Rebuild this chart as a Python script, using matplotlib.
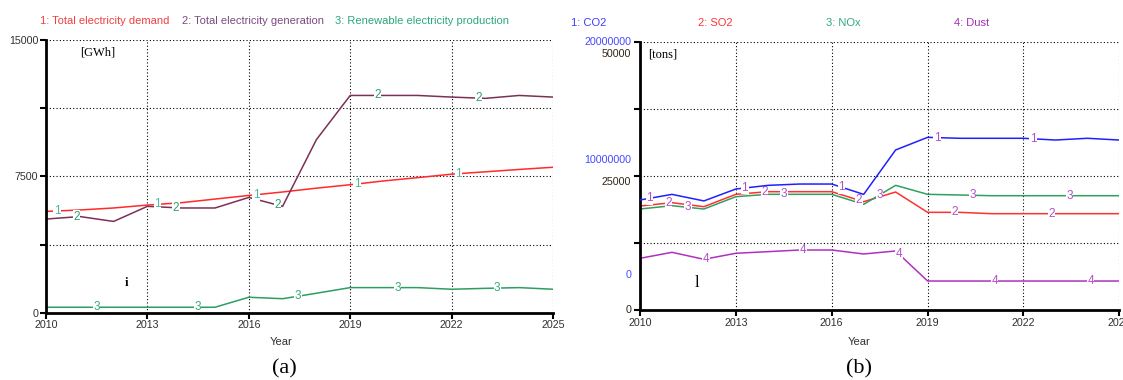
import matplotlib
matplotlib.use("Agg")
import matplotlib.pyplot as plt
import numpy as np

plt.rcParams['font.family'] = ['Liberation Sans', 'DejaVu Sans']

years = list(range(2010, 2026))

# (a) electricity, GWh
demand = [5570, 5650, 5760, 5920, 6050, 6250, 6450, 6640, 6850, 7040, 7250, 7430, 7620, 7750, 7880, 8000]
generation = [5150, 5290, 5020, 5850, 5760, 5760, 6340, 5850, 9520, 11950, 11950, 11950, 11860, 11790, 11950, 11860]
renewable = [300, 300, 300, 300, 300, 300, 850, 770, 1070, 1380, 1380, 1380, 1290, 1340, 1380, 1290]

# (b) emissions; CO2 on its own 0-20,000,000 scale, rest in tons (0-50,000)
co2 = [8.2e6, 8.62e6, 8.13e6, 9.02e6, 9.29e6, 9.39e6, 9.39e6, 8.62e6, 11.93e6, 12.87e6, 12.8e6, 12.8e6, 12.8e6, 12.67e6, 12.8e6, 12.67e6]
so2 = [19380, 20000, 19250, 21560, 22050, 22050, 22050, 20180, 21990, 18200, 18200, 17950, 17950, 17950, 17950, 17950]
nox = [18820, 19440, 18820, 21120, 21560, 21560, 21560, 19690, 23230, 21560, 21430, 21300, 21300, 21300, 21300, 21300]
dust = [9630, 10750, 9450, 10570, 10870, 11180, 11180, 10440, 11000, 5400, 5400, 5400, 5400, 5400, 5400, 5400]

# where the series numbers sit along each line
lab_a = {'1': [2010.33, 2013.3, 2016.22, 2019.2, 2022.2],
         '2': [2010.9, 2013.85, 2016.85, 2019.8, 2022.8],
         '3': [2011.5, 2014.48, 2017.45, 2020.4, 2023.35]}
lab_b = {'1': [2010.3, 2013.28, 2016.3, 2019.3, 2022.3],
         '2': [2010.89, 2013.9, 2016.85, 2019.85, 2022.88],
         '3': [2011.5, 2014.5, 2017.5, 2020.4, 2023.45],
         '4': [2012.07, 2015.1, 2018.1, 2021.1, 2024.1]}

W, H = 1123, 380
fig = plt.figure(figsize=(W / 100, H / 100), dpi=100)
ax1 = fig.add_axes([46 / W, 1 - 312.7 / H, 507 / W, 272.7 / H])
ax2 = fig.add_axes([640 / W, 1 - 310 / H, 479.3 / W, 268.3 / H])


def style(ax, ymax):
    ax.set_xlim(2010, 2025)
    ax.set_ylim(0, ymax)
    ax.set_xticks(range(2010, 2026, 3))
    ax.set_yticks(np.linspace(0, ymax, 5))
    ax.grid(True, linestyle=(0, (1, 2)), color='black', linewidth=0.8)
    for s in ['top', 'right']:
        ax.spines[s].set_visible(False)
    for s in ['left', 'bottom']:
        ax.spines[s].set_linewidth(2.0)
    ax.tick_params(axis='both', direction='out', length=4, width=1.5,
                   labelsize=7.7, labelcolor='#303030', pad=1.5)


def numbers(ax, x, y, labels, text, color):
    # below the spines (2.5) but above the lines (2)
    for xx in labels:
        ax.text(xx, np.interp(xx, x, y), text, fontsize=8.5, color=color,
                ha='center', va='center', zorder=2.4,
                bbox=dict(facecolor='white', edgecolor='none', pad=0.3))


# ---- (a)
style(ax1, 15000)
ax1.set_yticklabels(['0', '', '7500', '', '15000'])
ax1.plot(years, demand, color='#ff2a2a', lw=1.1)
ax1.plot(years, generation, color='#7d3055', lw=1.1)
ax1.plot(years, renewable, color='#2e9e60', lw=1.1)
numbers(ax1, years, demand, lab_a['1'], '1', '#45bca0')
numbers(ax1, years, generation, lab_a['2'], '2', '#2f9f70')
numbers(ax1, years, renewable, lab_a['3'], '3', '#35a880')
ax1.text(2011.0, 14300, '[GWh]', family='Liberation Serif', fontsize=9, va='center')
ax1.text(2012.39, 1650, 'i', family='Liberation Serif', fontsize=9,
         fontweight='bold', ha='center', va='center')

fig.text(40 / W, 1 - 20.7 / H, '1: Total electricity demand', color='#f04040',
         fontsize=8, va='center')
fig.text(181.7 / W, 1 - 20.7 / H, '2: Total electricity generation', color='#7a4a80',
         fontsize=8, va='center')
fig.text(335 / W, 1 - 20.7 / H, '3: Renewable electricity production', color='#2aa878',
         fontsize=8, va='center')

# ---- (b)
style(ax2, 50000)
ax2.set_yticklabels([])
ax2c = ax2.twinx()
ax2c.set_ylim(0, 20000000)
ax2c.axis('off')
ax2c.plot(years, co2, color='#2020ff', lw=1.1)
ax2.plot(years, so2, color='#ff3030', lw=1.1)
ax2.plot(years, nox, color='#30a060', lw=1.1)
ax2.plot(years, dust, color='#b030c0', lw=1.1)
co2_t = [v / 20000000 * 50000 for v in co2]
numbers(ax2c, years, co2, lab_b['1'], '1', '#b050c8')
numbers(ax2, years, so2, lab_b['2'], '2', '#b050c8')
numbers(ax2, years, nox, lab_b['3'], '3', '#b050c8')
numbers(ax2, years, dust, lab_b['4'], '4', '#b050c8')
ax2.text(2010.25, 47700, '[tons]', family='Liberation Serif', fontsize=9, va='center')
ax2.text(2011.77, 5030, 'l', family='Liberation Serif', fontsize=12,
         ha='center', va='center')

# stacked y scale labels (blue = CO2 scale, dark = tons)
tr = ax2.get_yaxis_transform()
ylabs = [(50000, '20000000', '#4848ff'), (47700, '50000', '#302418'),
         (27950, '10000000', '#4848ff'), (23900, '25000', '#302418'),
         (6520, '0', '#4848ff'), (0, '0', '#302418')]
for yv, s, c in ylabs:
    ax2.text(-0.018, yv, s, transform=tr, ha='right', va='center',
             fontsize=7.7, color=c)

fig.text(571 / W, 1 - 23.3 / H, '1: CO2', color='#3c3cff', fontsize=8, va='center')
fig.text(698 / W, 1 - 23.3 / H, '2: SO2', color='#ff3535', fontsize=8, va='center')
fig.text(825.7 / W, 1 - 23.3 / H, '3: NOx', color='#30a880', fontsize=8, va='center')
fig.text(954 / W, 1 - 23.3 / H, '4: Dust', color='#a030b0', fontsize=8, va='center')

# axis titles and panel letters
fig.text(281 / W, 1 - 342 / H, 'Year', fontsize=8, color='#303030', ha='center', va='center')
fig.text(859 / W, 1 - 342 / H, 'Year', fontsize=8, color='#303030', ha='center', va='center')
fig.text(284 / W, 1 - 369 / H, '(a)', family='Liberation Serif', fontsize=16,
         ha='center', va='center')
fig.text(859 / W, 1 - 369 / H, '(b)', family='Liberation Serif', fontsize=16,
         ha='center', va='center')

fig.savefig('out.png', dpi=100, facecolor='white')
